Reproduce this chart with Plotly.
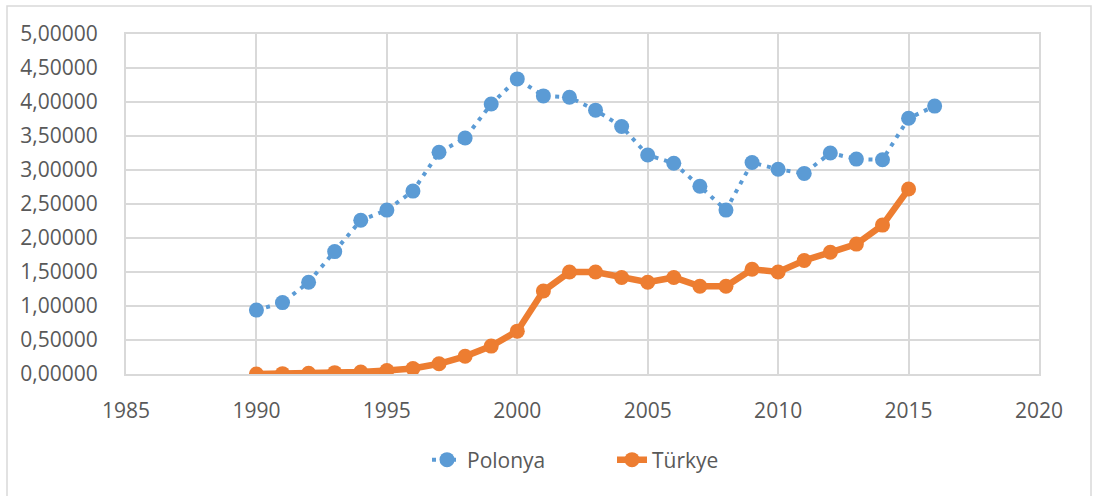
import plotly.graph_objects as go

years_pl = list(range(1990, 2017))
polonya = [0.94, 1.05, 1.35, 1.80, 2.26, 2.41, 2.69, 3.26, 3.47, 3.97,
           4.34, 4.09, 4.07, 3.88, 3.64, 3.22, 3.10, 2.76, 2.41, 3.11,
           3.01, 2.95, 3.25, 3.16, 3.15, 3.76, 3.94]

years_tr = list(range(1990, 2016))
turkiye = [0.00, 0.005, 0.01, 0.02, 0.03, 0.05, 0.08, 0.15, 0.26, 0.41,
           0.63, 1.22, 1.50, 1.50, 1.42, 1.35, 1.42, 1.29, 1.29, 1.54,
           1.50, 1.67, 1.79, 1.91, 2.19, 2.72]

y_ticks = [0, 0.5, 1, 1.5, 2, 2.5, 3, 3.5, 4, 4.5, 5]
y_labels = [f"{v:.5f}".replace(".", ",") for v in y_ticks]
x_ticks = [1985, 1990, 1995, 2000, 2005, 2010, 2015, 2020]

BLUE = "#5B9BD5"
ORANGE = "#ED7D31"
GRID = "#D9D9D9"
TXT = "#595959"
FONT = "Open Sans"
FS = 21

fig = go.Figure()
fig.add_trace(go.Scatter(
    x=years_pl, y=polonya, name="Polonya", mode="lines+markers",
    line=dict(color=BLUE, width=4, dash="4px,6px"),
    marker=dict(color=BLUE, size=15),
))
fig.add_trace(go.Scatter(
    x=years_tr, y=turkiye, name="Türkye", mode="lines+markers",
    line=dict(color=ORANGE, width=6.5),
    marker=dict(color=ORANGE, size=15),
))

W, H = 1094, 496
L, R, T, B = 126, 55, 34, 122
pw, ph = W - L - R, H - T - B

def px_x(p):
    return (p - L) / pw

def px_y(p):
    return (H - B - p) / ph

fig.add_shape(type="rect", xref="paper", yref="paper",
              x0=px_x(7), x1=px_x(1091), y0=px_y(499), y1=px_y(6),
              line=dict(color=GRID, width=1.5), layer="below")

fig.update_layout(
    width=W, height=H,
    margin=dict(l=L, r=R, t=T, b=B, autoexpand=False),
    paper_bgcolor="white", plot_bgcolor="white",
    font=dict(family=FONT, size=FS, color=TXT),
    showlegend=True,
    legend=dict(orientation="h", x=px_x(427), xanchor="left",
                y=px_y(460), yanchor="middle",
                font=dict(family=FONT, size=FS, color=TXT),
                entrywidth=140, entrywidthmode="pixels", tracegroupgap=0),
    xaxis=dict(range=[1985, 2020], tickvals=x_ticks, ticktext=[str(v) for v in x_ticks],
               showgrid=True, gridcolor=GRID, gridwidth=2,
               showline=True, linecolor=GRID, linewidth=2, mirror=True,
               zeroline=False, ticks="", ticklabelstandoff=17,
               tickfont=dict(family=FONT, size=FS, color=TXT)),
    yaxis=dict(range=[0, 5], tickvals=y_ticks, ticktext=y_labels,
               showgrid=True, gridcolor=GRID, gridwidth=2,
               showline=True, linecolor=GRID, linewidth=2, mirror=True,
               zeroline=False, ticks="", ticklabelstandoff=22,
               tickfont=dict(family=FONT, size=FS, color=TXT)),
)

fig.write_html("out.html", config={"displayModeBar": False},
               post_script="document.body.style.margin='0px';document.body.style.padding='0px';")
